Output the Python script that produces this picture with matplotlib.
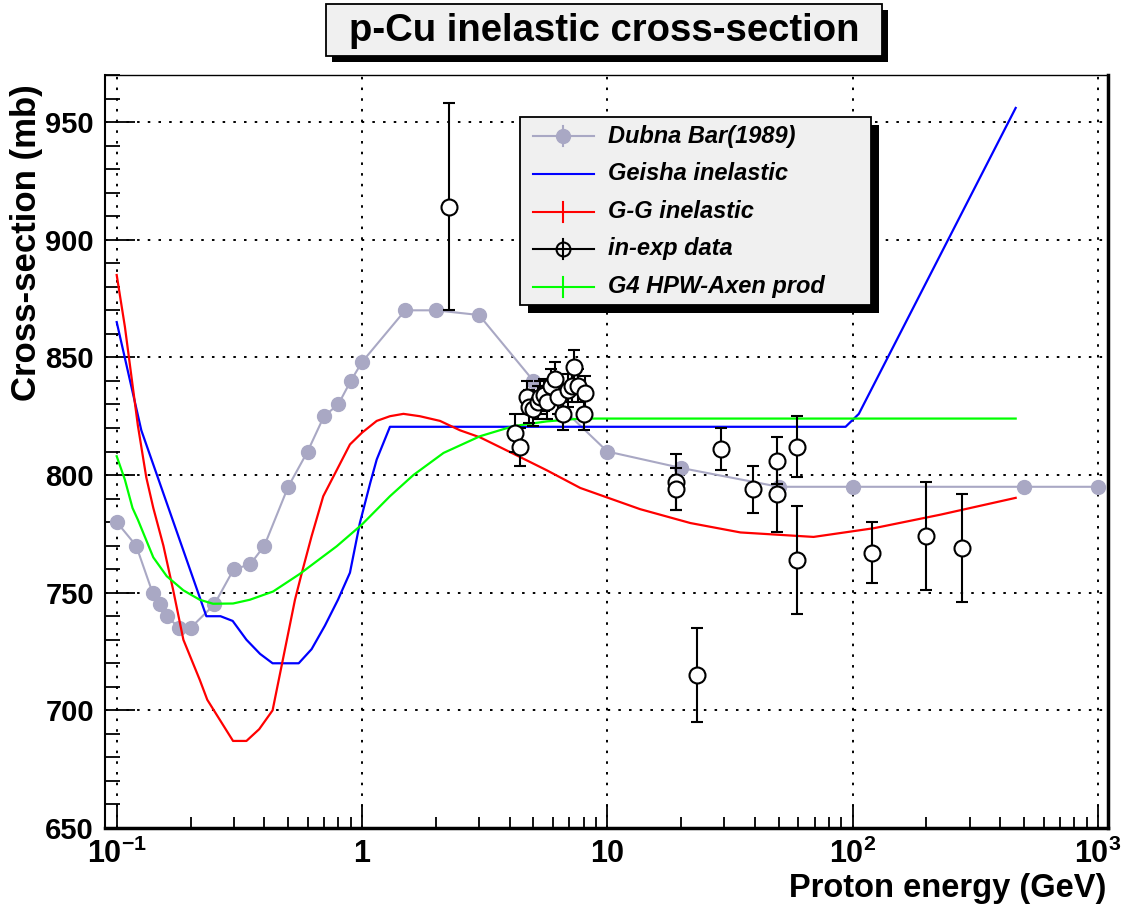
import matplotlib.pyplot as plt
from matplotlib.patches import Rectangle
from matplotlib.lines import Line2D
from matplotlib.ticker import FixedLocator, MultipleLocator, NullFormatter

plt.rcParams['font.family'] = ['Liberation Sans', 'DejaVu Sans']
plt.rcParams['font.weight'] = 'bold'
plt.rcParams['mathtext.fontset'] = 'custom'
plt.rcParams['mathtext.rm'] = 'Liberation Sans:bold'
plt.rcParams['mathtext.bf'] = 'Liberation Sans:bold'

# Dubna Bar (1989) measurements
dubna_e = [0.1, 0.12, 0.14, 0.15, 0.16, 0.18, 0.2, 0.25, 0.3, 0.35, 0.4, 0.5, 0.6,
           0.7, 0.8, 0.9, 1.0, 1.5, 2.0, 3.0, 5.0, 10, 20, 50, 100, 500, 1000]
dubna_xs = [780, 770, 750, 745, 740, 735, 735, 745, 760, 762, 770, 795, 810,
            825, 830, 840, 848, 870, 870, 868, 840, 810, 803, 795, 795, 795, 795]

# Geisha inelastic
geisha_e = [0.1, 0.126, 0.232, 0.265, 0.297, 0.338, 0.384, 0.432, 0.552, 0.623,
            0.706, 0.798, 0.893, 0.98, 1.08, 1.148, 1.30, 93.6, 106, 462]
geisha_xs = [865, 819, 740, 740, 738, 730, 724, 720, 720, 726,
             736, 747, 758.5, 779.6, 796.6, 806.6, 820.5, 820.5, 826, 956]

# Glauber-Gribov inelastic
gg_e = [0.1, 0.108, 0.122, 0.132, 0.141, 0.155, 0.170, 0.187, 0.218, 0.234,
        0.298, 0.338, 0.381, 0.432, 0.533, 0.567, 0.623, 0.695, 0.788, 0.893,
        1.0, 1.148, 1.30, 1.475, 1.72, 2.08, 2.51, 3.03, 4.15, 5.67,
        7.76, 13.6, 21.8, 34.9, 69.3, 122, 229, 462]
gg_xs = [885, 863, 821, 799, 786, 770, 751, 730, 713, 704.5,
         687, 687, 692, 700, 747, 758, 774, 791, 802, 813,
         818, 823, 825, 826, 825, 823, 819, 816, 809, 802,
         794.5, 785.5, 779.6, 775.6, 773.7, 777.4, 783.2, 790.3]

# G4 HPW-Axen production
g4_e = [0.1, 0.108, 0.116, 0.122, 0.141, 0.16, 0.187, 0.218, 0.247, 0.298, 0.349,
        0.434, 0.558, 0.788, 1.0, 1.30, 1.62, 2.15, 3.03, 4.15, 5.67, 7.76, 462]
g4_xs = [808, 798, 786, 781, 765, 757, 751, 747, 745.3, 745.4, 747,
         750.5, 758, 769.7, 779, 791, 800, 809.4, 816.5, 820.8, 822.8, 824, 824]

# in-exp data with errors
exp_e = [2.26, 4.2, 4.4, 4.7, 4.8, 5.0, 5.2, 5.3, 5.5, 5.7, 5.9, 6.1, 6.3, 6.6, 6.9,
         7.2, 7.3, 7.6, 8.0, 8.1, 19.1, 19.1, 23.1, 29.1, 39.1, 49.3, 49.3, 59.1,
         59.1, 120, 200, 280]
exp_xs = [914, 818, 812, 833, 829, 828, 831, 833, 834, 831, 838, 841, 833, 826, 836,
          838, 846, 838, 826, 835, 797, 794, 715, 811, 794, 806, 792, 812,
          764, 767, 774, 769]
exp_err = [44, 8, 8, 7, 7, 7, 7, 7, 7, 7, 7, 7, 7, 7, 7,
           7, 7, 7, 7, 7, 12, 9, 20, 9, 10, 10, 16, 13,
           23, 13, 23, 23]

x_ticks = [0.1, 1, 10, 100, 1000]
x_ticklabels = ['$10^{-1}$', '1', '10', '$10^{2}$', '$10^{3}$']

dubna_col = '#a9a8c4'

W, H = 1121, 911
fig = plt.figure(figsize=(W / 100, H / 100), dpi=100)
ax = fig.add_axes([105 / W, 83 / H, 1003 / W, 753 / H])

ax.plot(dubna_e, dubna_xs, '-o', color=dubna_col, lw=1.5, ms=10, zorder=2)
ax.plot(geisha_e, geisha_xs, color='#0000ff', lw=1.6, zorder=3)
ax.plot(gg_e, gg_xs, color='#ff0000', lw=1.6, zorder=3)
ax.plot(g4_e, g4_xs, color='#00ff00', lw=1.6, zorder=3)
ax.errorbar(exp_e, exp_xs, yerr=exp_err, fmt='o', mfc='white', mec='black', ms=11.5,
            mew=1.5, ecolor='black', elinewidth=1.5, capsize=4, capthick=1.5, zorder=5)

ax.set_xscale('log')
ax.set_xlim(0.0896, 1099)
ax.set_ylim(650, 970)

ax.xaxis.set_major_locator(FixedLocator(x_ticks))
ax.xaxis.set_minor_locator(FixedLocator([m * d for d in [0.1, 1, 10, 100] for m in range(2, 10)]))
ax.xaxis.set_minor_formatter(NullFormatter())
ax.set_xticklabels(x_ticklabels, fontsize=22, fontweight='bold')
ax.yaxis.set_major_locator(MultipleLocator(50))
ax.yaxis.set_minor_locator(MultipleLocator(10))
for lab in ax.get_yticklabels():
    lab.set_fontsize(21)
    lab.set_fontweight('bold')

ax.tick_params(axis='both', which='both', direction='in', top=False, right=False)
ax.tick_params(axis='y', which='major', length=21.6, width=1.3, pad=8)
ax.tick_params(axis='y', which='minor', length=10.8, width=1.3)
ax.tick_params(axis='x', which='major', length=16.3, width=1.3, pad=8)
ax.tick_params(axis='x', which='minor', length=8.1, width=1.3)

ax.grid(True, which='major', color='black', linestyle=(0, (1.3, 4.2)), linewidth=1.4)
ax.set_axisbelow(True)

ax.spines['left'].set_linewidth(1.5)
ax.spines['top'].set_linewidth(1.0)
ax.spines['bottom'].set_linewidth(2.5)
ax.spines['right'].set_linewidth(2.5)


def fx(x):
    return x / W


def fy(y):
    return 1 - y / H


def box(x0, y0, x1, y1, shift):
    # shadowed box in pixel coordinates (top-left origin)
    fig.patches.append(Rectangle((fx(x0 + shift), fy(y1 + shift)), (x1 - x0) / W, (y1 - y0) / H,
                                 transform=fig.transFigure, facecolor='black',
                                 edgecolor='none', zorder=10))
    fig.patches.append(Rectangle((fx(x0), fy(y1)), (x1 - x0) / W, (y1 - y0) / H,
                                 transform=fig.transFigure, facecolor='#f0f0f0',
                                 edgecolor='black', lw=1.3, zorder=11))


# title
box(326, 4, 882, 56, 6)
fig.text(fx(604), fy(31), 'p-Cu inelastic cross-section', ha='center', va='center',
         fontsize=27.5, fontweight='bold', zorder=12)

# legend
box(520, 117, 871, 305, 8)
legend_rows = [
    ('Dubna Bar(1989)', dubna_col, 'dot'),
    ('Geisha inelastic', '#0000ff', 'none'),
    ('G-G inelastic', '#ff0000', 'bar'),
    ('in-exp data', 'black', 'circle'),
    ('G4 HPW-Axen prod', '#00ff00', 'bar'),
]
row_y = [136, 173.5, 211.5, 248.5, 286.5]
for (label, col, kind), yy in zip(legend_rows, row_y):
    fig.lines.append(Line2D([fx(533), fx(594)], [fy(yy), fy(yy)], transform=fig.transFigure,
                            color=col, lw=1.5, zorder=12))
    if kind != 'none':
        fig.lines.append(Line2D([fx(563), fx(563)], [fy(yy - 10), fy(yy + 10)],
                                transform=fig.transFigure, color=col, lw=1.5, zorder=12))
    if kind == 'dot':
        fig.lines.append(Line2D([fx(563)], [fy(yy)], transform=fig.transFigure, marker='o',
                                ms=10, color=col, zorder=13))
    elif kind == 'circle':
        fig.lines.append(Line2D([fx(563)], [fy(yy)], transform=fig.transFigure, marker='o',
                                ms=10, mfc='none', mec='black', mew=1.5, zorder=13))
    fig.text(fx(608), fy(yy), label, ha='left', va='center', fontsize=17,
             fontweight='bold', fontstyle='italic', zorder=13)

# axis titles
fig.text(fx(27), fy(84), 'Cross-section (mb)', rotation=90, ha='center', va='top',
         fontsize=25, fontweight='bold')
fig.text(fx(1106), fy(888), 'Proton energy (GeV)', ha='right', va='center',
         fontsize=23.5, fontweight='bold')

fig.savefig('out.png', dpi=100)
